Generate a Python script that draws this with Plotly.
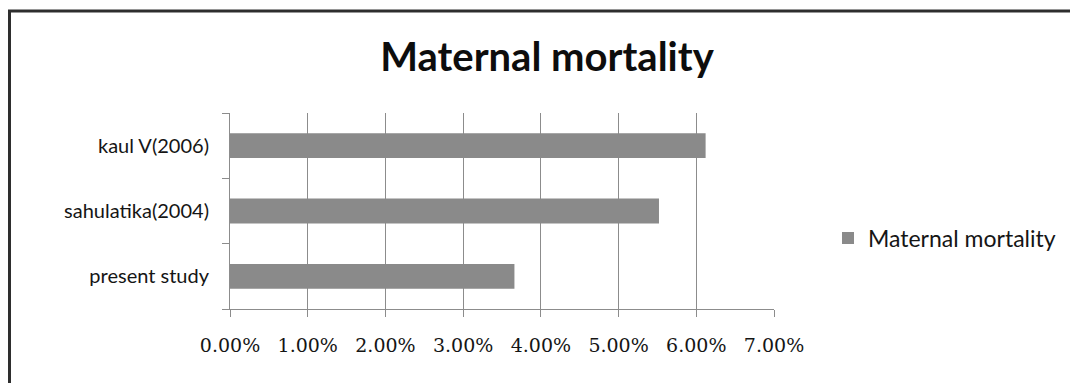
import plotly.graph_objects as go

# Data
categories = ["present study", "sahulatika(2004)", "kaul V(2006)"]
values = [0.0366, 0.0552, 0.0612]
series_name = "Maternal mortality"
x_ticks = [0, 0.01, 0.02, 0.03, 0.04, 0.05, 0.06, 0.07]

W, H = 1070, 383
ML, MR, MT, MB = 230, 296, 113, 74
plot_w = W - ML - MR
plot_h = H - MT - MB

BAR = "#8a8a8a"
GRID = "#8c8c8c"
TXT = "#151515"

fig = go.Figure(
    go.Bar(
        x=values,
        y=categories,
        orientation="h",
        name=series_name,
        marker=dict(color=BAR, line=dict(width=0)),
        width=0.38,
        showlegend=True,
    )
)


def px_x(p):
    return (p - ML) / plot_w


def px_y(p):
    return (H - MB - p) / plot_h


# outer chart frame
fig.add_shape(
    type="rect", xref="paper", yref="paper",
    x0=px_x(9.5), x1=px_x(W + 10), y0=px_y(H + 10), y1=px_y(11),
    line=dict(color="#2e2e2e", width=3), fillcolor="rgba(0,0,0,0)",
    layer="above",
)

fig.update_layout(
    width=W, height=H,
    margin=dict(l=ML, r=MR, t=MT, b=MB, pad=0, autoexpand=False),
    paper_bgcolor="white", plot_bgcolor="white",
    title=dict(
        text="<b>Maternal mortality</b>",
        x=547 / W, xanchor="center",
        y=1 - 57 / H, yanchor="middle",
        font=dict(family="Lato", size=40, color="#0d0d0d"),
    ),
    xaxis=dict(
        range=[0, 0.07],
        tickvals=x_ticks,
        tickformat=".2%",
        showgrid=True, gridcolor=GRID, gridwidth=1,
        zeroline=False,
        showline=True, linecolor=GRID, linewidth=1,
        ticks="outside", ticklen=7, tickcolor=GRID,
        ticklabelstandoff=12,
        tickfont=dict(family="DejaVu Serif", size=19, color=TXT),
        fixedrange=True,
    ),
    yaxis=dict(
        type="category",
        categoryorder="array", categoryarray=categories,
        range=[-0.5, 2.5],
        showgrid=False, zeroline=False,
        showline=True, linecolor=GRID, linewidth=1,
        ticks="outside", ticklen=7, tickcolor=GRID,
        tickson="boundaries",
        ticklabelstandoff=16,
        tickfont=dict(family="Lato", size=20, color=TXT),
        fixedrange=True,
    ),
    legend=dict(
        x=px_x(828), xanchor="left",
        y=px_y(238), yanchor="middle",
        font=dict(family="Lato", size=23, color=TXT),
        itemwidth=30,
        bgcolor="rgba(0,0,0,0)",
        tracegroupgap=0,
    ),
    bargap=0.62,
)

fig.write_html("out.html")
